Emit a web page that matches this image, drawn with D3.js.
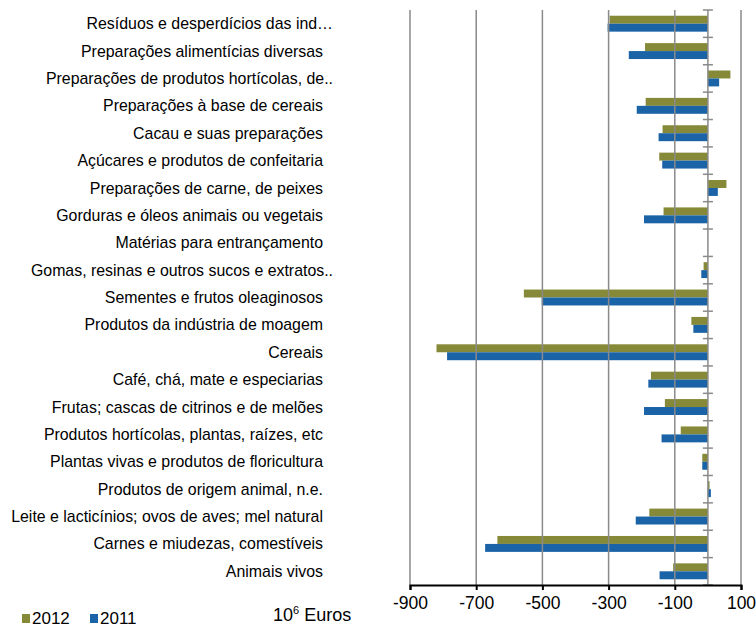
<!DOCTYPE html>
<html><head><meta charset="utf-8">
<script src="https://cdn.jsdelivr.net/npm/d3@7"></script>
<style>body{margin:0;background:#fff}svg{display:block}text{font-family:"Liberation Sans",Arial,sans-serif;fill:#000}</style>
</head><body><svg id="c" width="756" height="628"></svg>
<script>
const categories = [
 "Resíduos e desperdícios das ind…",
 "Preparações alimentícias diversas",
 "Preparações de produtos hortícolas, de..",
 "Preparações à base de cereais",
 "Cacau e suas preparações",
 "Açúcares e produtos de confeitaria",
 "Preparações de carne, de peixes",
 "Gorduras e óleos animais ou vegetais",
 "Matérias para entrançamento",
 "Gomas, resinas e outros sucos e extratos..",
 "Sementes e frutos oleaginosos",
 "Produtos da indústria de moagem",
 "Cereais",
 "Café, chá, mate e especiarias",
 "Frutas; cascas de citrinos e de melões",
 "Produtos hortícolas, plantas, raízes, etc",
 "Plantas vivas e produtos de floricultura",
 "Produtos de origem animal, n.e.",
 "Leite e lacticínios; ovos de aves; mel natural",
 "Carnes e miudezas, comestíveis",
 "Animais vivos"
];
const values2012 = [-297,-190,68,-188,-137,-147,56,-134,0,-13,-556,-50,-820,-172,-130,-82,-17,5,-177,-636,-105];
const values2011 = [-303,-239,34,-215,-149,-138,30,-193,0,-20,-502,-44,-788,-180,-193,-140,-17,9,-218,-673,-146];
const xTicks = [-900,-700,-500,-300,-100,100];
const seriesNames = ["2012","2011"];
const colors = ["#868a38","#1b63a7"];
const unitLabel = "Euros";

const svg = d3.select("#c");
const x = d3.scaleLinear().domain([-900,100]).range([410,741]);
const y = d3.scaleBand().domain(categories).range([10,585]);
const inner = d3.scaleBand().domain(seriesNames).range([0,y.bandwidth()]).paddingOuter(0.72).paddingInner(0);

// bars
const series = [values2012, values2011];
series.forEach((vals,si)=>{
  svg.append("g").selectAll("rect").data(categories).join("rect")
    .attr("x",(d,i)=>x(Math.min(0,vals[i])))
    .attr("width",(d,i)=>Math.abs(x(vals[i])-x(0)))
    .attr("y",d=>y(d)+inner(seriesNames[si]))
    .attr("height",inner.bandwidth())
    .attr("fill",colors[si]);
});

// vertical gridlines (on top of bars, as in reference)
svg.append("g").selectAll("line").data(xTicks).join("line")
  .attr("x1",d=>x(d)).attr("x2",d=>x(d)).attr("y1",10).attr("y2",585)
  .attr("stroke","#8a8a8a").attr("stroke-width",1.5);

// category axis at zero
const catAxis = svg.append("g").attr("transform",`translate(${x(0)},0)`);
catAxis.append("line").attr("x1",0).attr("x2",0).attr("y1",10).attr("y2",585).attr("stroke","#8a8a8a").attr("stroke-width",1.5);
const bounds = categories.map(c=>y(c)).concat([585]);
catAxis.selectAll("line.t").data(bounds).join("line").attr("class","t")
  .attr("x1",-5).attr("x2",5).attr("y1",d=>d).attr("y2",d=>d)
  .attr("stroke","#8a8a8a").attr("stroke-width",1.5);

// category labels
svg.append("g").selectAll("text").data(categories).join("text")
  .attr("x",d=>/\.\.$|…$/.test(d)?333:323)
  .attr("y",d=>y(d)+y.bandwidth()/2)
  .attr("dy","0.35em").attr("text-anchor","end")
  .style("font-size","15.9px").text(d=>d);

// x axis
const xAxis = d3.axisBottom(x).tickValues(xTicks).tickSize(5).tickFormat(d=>String(d));
const gx = svg.append("g").attr("transform","translate(0,585)").call(xAxis);
gx.select(".domain").attr("stroke","#000").attr("stroke-width",2);
gx.selectAll(".tick line").attr("stroke","#000").attr("stroke-width",2);
gx.selectAll(".tick text").attr("y",12).style("font-size","17.5px").style("font-family",'"Liberation Sans",Arial,sans-serif').attr("fill","#000");

// legend
const leg = svg.append("g");
const legX = [22,90];
seriesNames.forEach((s,i)=>{
  leg.append("rect").attr("x",legX[i]).attr("y",614).attr("width",8).attr("height",9).attr("fill",colors[i]);
  leg.append("text").attr("x",legX[i]+10).attr("y",624).style("font-size","17px").text(s);
});
const u = svg.append("text").attr("x",273).attr("y",621).style("font-size","18px");
u.append("tspan").text("10");
u.append("tspan").attr("dy",-7).style("font-size","11px").text("6");
u.append("tspan").attr("dy",7).text(" "+unitLabel);
</script></body></html>
